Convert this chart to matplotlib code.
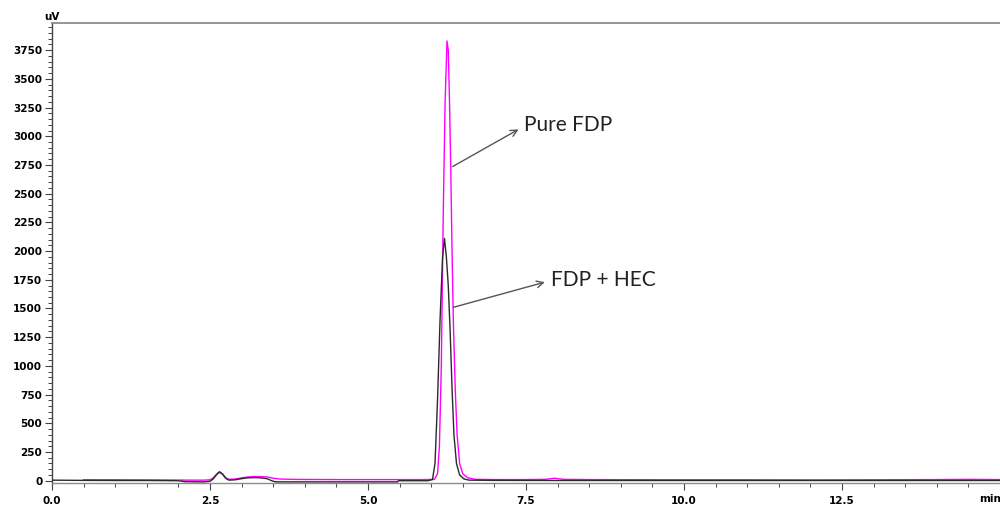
import matplotlib
matplotlib.use("Agg")
import matplotlib.pyplot as plt
from matplotlib.ticker import MultipleLocator, FixedLocator

# ---- data ----
pure_t = [0.5, 1.0, 1.5, 2.0, 2.2, 2.4, 2.5, 2.55, 2.6, 2.65, 2.7, 2.75, 2.8, 2.9,
          3.0, 3.1, 3.2, 3.3, 3.4, 3.5, 3.6, 3.8, 4.0, 4.5, 5.0, 5.5, 5.9, 6.05,
          6.10, 6.13, 6.16, 6.19, 6.22, 6.25, 6.27, 6.29, 6.31, 6.33, 6.35, 6.38,
          6.41, 6.45, 6.50, 6.58, 6.7, 7.0, 7.5, 7.8, 7.9, 7.95, 8.0, 8.1, 8.5,
          9.0, 10.0, 11.0, 12.0, 13.0, 14.0, 14.5, 15.0]
pure_v = [8, 8, 7, 6, 5, 5, 8, 25, 55, 80, 60, 25, 12, 15,
          25, 33, 37, 36, 33, 22, 15, 12, 11, 10, 10, 10, 10, 12,
          60, 300, 1000, 2300, 3300, 3830, 3750, 3300, 2700, 2000, 1400, 800,
          400, 150, 60, 25, 12, 10, 10, 12, 18, 22, 18, 12, 10,
          9, 8, 8, 7, 8, 10, 12, 10]

hec_t = [0.0, 0.5, 1.0, 1.5, 2.0, 2.1, 2.4, 2.5, 2.55, 2.6, 2.65, 2.7, 2.75, 2.8,
         2.9, 3.0, 3.1, 3.2, 3.3, 3.4, 3.5, 3.55, 4.0, 4.5, 5.0, 5.47, 5.48, 5.95,
         6.02, 6.06, 6.10, 6.14, 6.18, 6.21, 6.24, 6.27, 6.30, 6.33, 6.36, 6.40,
         6.45, 6.52, 6.6, 7.0, 8.0, 10.0, 12.0, 15.0]
hec_v = [5, 3, 2, 2, 0, -8, -10, -5, 15, 50, 75, 55, 20, 5,
         8, 18, 25, 27, 25, 18, -5, -10, -10, -10, -10, -10, 0, 0,
         10, 150, 700, 1400, 1950, 2110, 1950, 1700, 1300, 800, 400, 150,
         50, 15, 5, 3, 2, 2, 2, 2]

x_major = [0.0, 2.5, 5.0, 7.5, 10.0, 12.5]
x_labels = ["0.0", "2.5", "5.0", "7.5", "10.0", "12.5"]
y_major = list(range(0, 4000, 250))

fig = plt.figure(figsize=(10, 5.07), dpi=100)
ax = fig.add_axes([0.052, 0.0473, 0.948, 0.907])

ax.plot(hec_t, hec_v, color="#2a2a2a", lw=1.0, zorder=3)
ax.plot(pure_t, pure_v, color="#ff00ff", lw=1.0, zorder=2)

ax.set_xlim(0, 15)
ax.set_ylim(-20, 3985)

ax.xaxis.set_major_locator(FixedLocator(x_major))
ax.set_xticklabels(x_labels)
ax.xaxis.set_minor_locator(MultipleLocator(0.5))
ax.yaxis.set_major_locator(FixedLocator(y_major))
ax.yaxis.set_minor_locator(MultipleLocator(50))

for lab in ax.get_xticklabels() + ax.get_yticklabels():
    lab.set_fontweight("bold")
    lab.set_fontsize(7.5)

ax.tick_params(axis="y", which="major", length=5, width=0.8, pad=2, color="#444")
ax.tick_params(axis="y", which="minor", length=3, width=0.7, color="#444")
ax.tick_params(axis="x", which="major", length=5, width=0.8, pad=4, color="#444")
ax.tick_params(axis="x", which="minor", length=3, width=0.7, color="#444")

ax.spines["right"].set_visible(False)
ax.spines["top"].set_color("#8c8c8c")
ax.spines["top"].set_linewidth(1.3)
ax.spines["bottom"].set_color("#8c8c8c")
ax.spines["bottom"].set_linewidth(1.0)
ax.spines["left"].set_color("#444")
ax.spines["left"].set_linewidth(1.0)

fig.text(0.052, 0.966, "uV", fontsize=7.5, fontweight="bold", ha="center", va="center")
fig.text(0.99, 0.016, "min", fontsize=7.5, fontweight="bold", ha="center", va="center")

ax.annotate("", xy=(7.42, 3072), xytext=(6.30, 2724),
            arrowprops=dict(arrowstyle="->", color="#555555", lw=1.0, mutation_scale=12))
ax.annotate("", xy=(7.84, 1736), xytext=(6.31, 1504),
            arrowprops=dict(arrowstyle="->", color="#555555", lw=1.0, mutation_scale=12))
ax.text(7.47, 3101, "Pure FDP", fontsize=15, family="Lato", color="#222222",
        ha="left", va="center")
ax.text(7.89, 1751, "FDP + HEC", fontsize=15, family="Lato", color="#222222",
        ha="left", va="center")

fig.savefig("out.png", dpi=100)
